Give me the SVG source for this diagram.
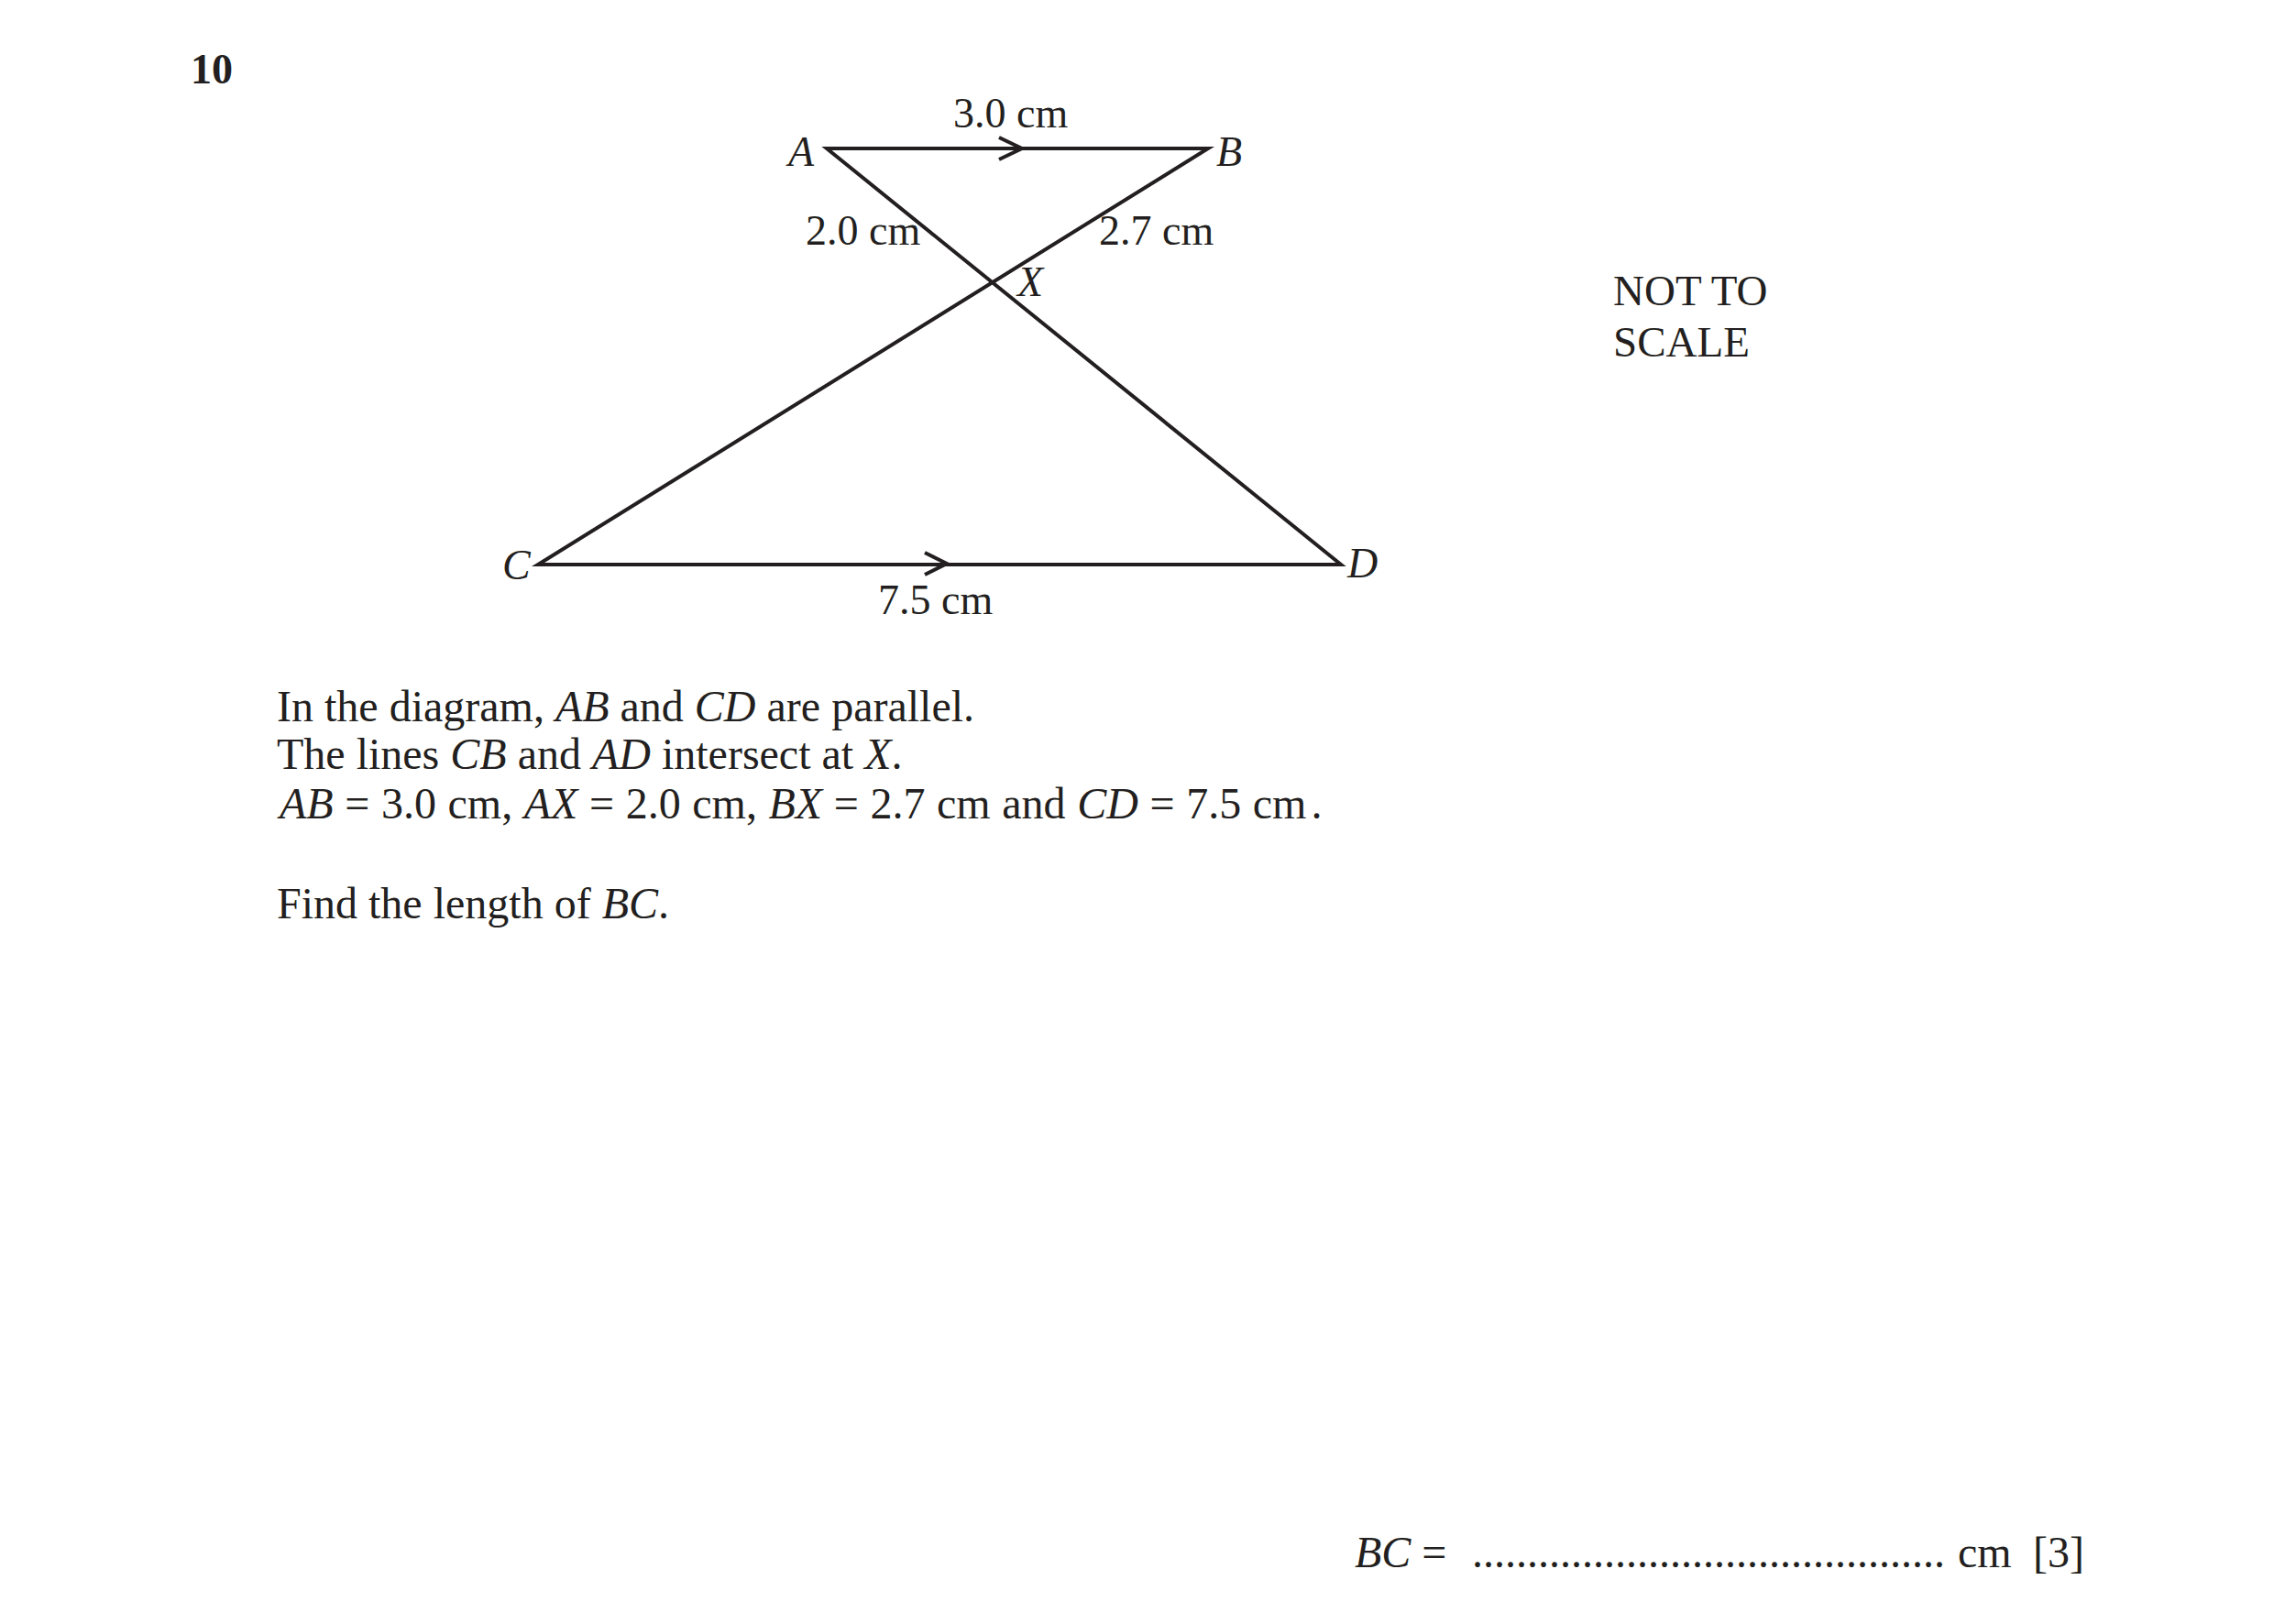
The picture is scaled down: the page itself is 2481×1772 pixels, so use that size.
<svg xmlns="http://www.w3.org/2000/svg" width="2481" height="1772" viewBox="0 0 2481 1772">
<style>
text{font-family:"Liberation Serif","Times New Roman",serif;fill:#231f20}
.t{font-size:48px}
.l{font-size:46px}
.n{font-size:47px}
.i{font-style:italic}
.edge{fill:none;stroke:#231f20;stroke-width:4;stroke-linejoin:miter;stroke-miterlimit:10}
.chev{fill:none;stroke:#231f20;stroke-width:4;stroke-linecap:butt;stroke-linejoin:miter}
</style>
<rect width="2481" height="1772" fill="#ffffff"/>
<text x="208" y="91" style="font-size:46px;font-weight:bold">10</text>
<g id="connectors">
<polygon class="edge" points="1318,162 902,162 1463,616 587,616"/>
<polyline class="chev" points="1090,150 1115,162 1090,174"/>
<polyline class="chev" points="1009,603 1033,615 1009,627"/>
</g>
<g id="node-A"><text class="l i" x="860" y="181">A</text></g>
<g id="node-B"><text class="l i" x="1327" y="181">B</text></g>
<g id="node-C"><text class="l i" x="548" y="632">C</text></g>
<g id="node-D"><text class="l i" x="1470" y="630">D</text></g>
<g id="node-X"><text class="l i" x="1110" y="323">X</text></g>
<g id="labels">
<text class="l" x="1040" y="139">3.0 cm</text>
<text class="l" x="879" y="267">2.0 cm</text>
<text class="l" x="1199" y="267">2.7 cm</text>
<text class="l" x="958" y="670">7.5 cm</text>
<text class="n" x="1760" y="333">NOT TO</text>
<text class="n" x="1760" y="389">SCALE</text>
</g>
<g id="question">
<text class="t" x="302" y="787">In the diagram, <tspan class="i">AB</tspan> and <tspan class="i">CD</tspan> are parallel.</text>
<text class="t" x="302" y="839">The lines <tspan class="i">CB</tspan> and <tspan class="i">AD</tspan> intersect at <tspan class="i">X</tspan>.</text>
<text class="t" x="305" y="893" style="word-spacing:0.6px"><tspan class="i">AB</tspan> = 3.0 cm, <tspan class="i">AX</tspan> = 2.0 cm, <tspan class="i">BX</tspan> = 2.7 cm and <tspan class="i">CD</tspan> = 7.5 cm<tspan dx="5">.</tspan></text>
<text class="t" x="302" y="1002">Find the length of <tspan class="i">BC</tspan>.</text>
</g>
<g id="answer">
<text class="t" x="1478" y="1710"><tspan class="i">BC</tspan> =</text>
<text class="t" x="1606" y="1710">...........................................</text>
<text class="t" x="2136" y="1710">cm</text>
<text class="t" x="2218" y="1710">[3]</text>
</g>
</svg>
